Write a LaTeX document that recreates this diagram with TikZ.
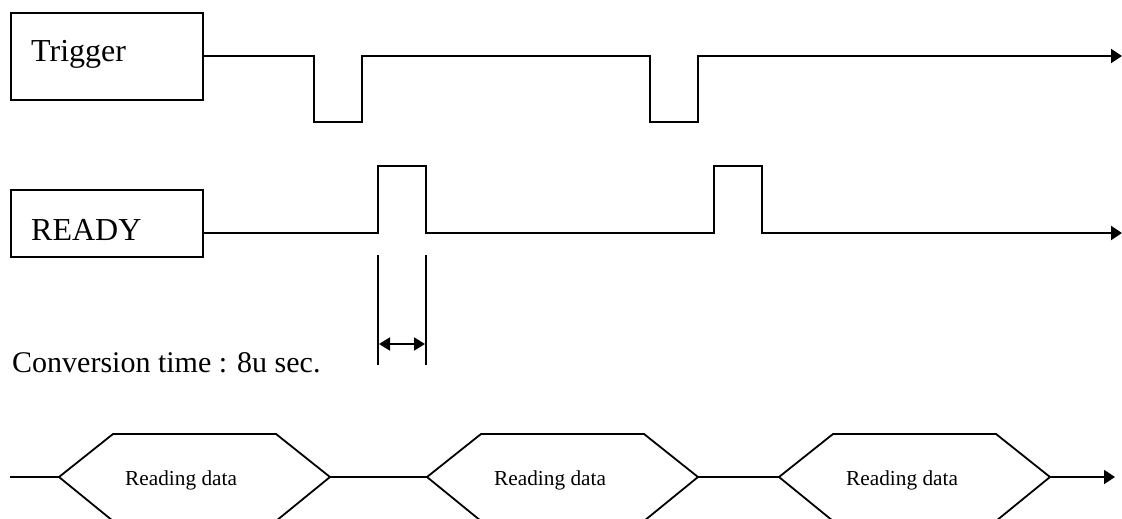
\documentclass[tikz,border=0pt]{standalone}
\usepackage{fontspec}
\setmainfont{Liberation Serif}
\usetikzlibrary{arrows.meta}
\begin{document}
\begin{tikzpicture}[x=1pt,y=-1pt,
  sig/.style={line width=2pt,line join=miter},
  lbox/.style={draw,line width=1.6pt,minimum width=192pt,inner sep=0pt,anchor=north west},
  tip/.style={-{Triangle[length=11pt,width=14pt]}},
  hexs/.style={line width=1.8pt},
  big/.style={font=\fontsize{32}{34}\selectfont,anchor=base west,inner sep=0pt},
  small/.style={font=\fontsize{21.3}{23}\selectfont,anchor=base west,inner sep=0pt}]
\useasboundingbox (0,0) rectangle (1122,519);
\clip (0,0) rectangle (1122,519);
% label boxes
\node[lbox,minimum height=87pt] (trig) at (10,12) {};
\node[big] (trigtxt) at (31,62) {Trigger};
\node[lbox,minimum height=67pt] (ready) at (10,189) {};
\node[big] (readytxt) at (31,240) {READY};
% trigger signal
\coordinate (tend) at (1122,56);
\draw[sig,tip] (trig.east |- 0,56) -- (314,56) -- (314,122) -- (362,122) -- (362,56)
  -- (650,56) -- (650,122) -- (698,122) -- (698,56) -- (tend);
% ready signal
\coordinate (rend) at (1122,233);
\draw[sig,tip] (ready.east |- 0,233) -- (378,233) -- (378,166) -- (426,166) -- (426,233)
  -- (714,233) -- (714,166) -- (762,166) -- (762,233) -- (rend);
% conversion time dimension
\coordinate (d1a) at (378,255); \coordinate (d1b) at (378,365);
\coordinate (d2a) at (426,255); \coordinate (d2b) at (426,365);
\draw[line width=1.8pt] (d1a) -- (d1b);
\draw[line width=1.8pt] (d2a) -- (d2b);
\coordinate (da) at (379,344); \coordinate (db) at (425,344);
\draw[line width=2pt,{Triangle[length=11pt,width=13pt]}-{Triangle[length=11pt,width=13pt]}] (da) -- (db);
\node[font=\fontsize{30}{32}\selectfont,anchor=base west,inner sep=0pt] (conv) at (12,372) {Conversion time : 8u sec.};
% data bus
\coordinate (b0) at (10,477);
\coordinate (h1l) at (59,477); \coordinate (h1r) at (330,477);
\coordinate (h2l) at (427,477); \coordinate (h2r) at (698,477);
\coordinate (h3l) at (779,477); \coordinate (h3r) at (1050,477);
\coordinate (bend) at (1115,477);
\draw[hexs] (b0) -- (h1l);
\draw[hexs] (h1r) -- (h2l);
\draw[hexs] (h2r) -- (h3l);
\draw[hexs,tip] (h3r) -- (bend);
\foreach \l/\r in {59/330,427/698,779/1050}{
  \draw[hexs,line join=miter] (\l,477) -- (\l+54,434) -- (\r-54,434) -- (\r,477) -- (\r-54,521) -- (\l+54,521) -- cycle;
}
\node[small] (rd1) at (125,485) {Reading data};
\node[small] (rd2) at (494,485) {Reading data};
\node[small] (rd3) at (846,485) {Reading data};
\end{tikzpicture}
\end{document}
